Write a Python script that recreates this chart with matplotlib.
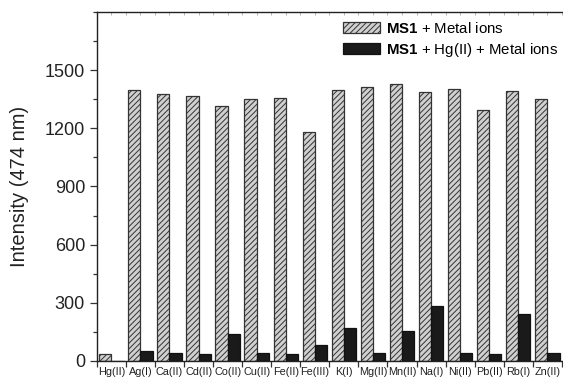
import numpy as np
import matplotlib
matplotlib.use("Agg")
import matplotlib.pyplot as plt
from matplotlib.ticker import MultipleLocator

plt.rcParams['font.family'] = ['Liberation Sans', 'DejaVu Sans']
plt.rcParams['mathtext.fontset'] = 'custom'
plt.rcParams['mathtext.bf'] = 'Liberation Sans:bold'
plt.rcParams['mathtext.rm'] = 'Liberation Sans'
plt.rcParams['hatch.linewidth'] = 0.7

ions = ['Hg(II)', 'Ag(I)', 'Ca(II)', 'Cd(II)', 'Co(II)', 'Cu(II)', 'Fe(II)', 'Fe(III)',
        'K(I)', 'Mg(II)', 'Mn(II)', 'Na(I)', 'Ni(II)', 'Pb(II)', 'Rb(I)', 'Zn(II)']
ms1_metal = [35, 1395, 1375, 1365, 1315, 1352, 1355, 1183,
             1397, 1412, 1428, 1387, 1400, 1292, 1390, 1350]
ms1_hg_metal = [0, 52, 41, 38, 138, 40, 36, 81,
                172, 40, 152, 282, 41, 36, 240, 40]

x = np.arange(len(ions))
w = 0.42

fig = plt.figure(figsize=(5.63, 3.84), dpi=100)
ax = fig.add_axes([0.172, 0.06, 0.826, 0.909])

ax.bar(x - w / 2, ms1_metal, w, facecolor='#d0d0d0', edgecolor='#333333',
       hatch='//////', linewidth=0.9, label=r'$\bf{MS1}$ + Metal ions')
ax.bar(x + w / 2, ms1_hg_metal, w, facecolor='#1a1a1a', edgecolor='#111111',
       linewidth=0.9, label=r'$\bf{MS1}$ + Hg(II) + Metal ions')

ax.set_xlim(-0.5, len(ions) - 0.5)
ax.set_ylim(0, 1800)
ax.yaxis.set_minor_locator(MultipleLocator(150))
ax.set_yticks([0, 300, 600, 900, 1200, 1500])
ax.set_xticks(x)
ax.set_xticklabels(ions, fontsize=7.8, color='#222222')
ax.set_xticks(np.arange(-0.5, len(ions), 1.0), minor=True)
ax.tick_params(axis='x', which='major', length=0, pad=4)
ax.tick_params(axis='x', which='minor', length=4, width=0.9, direction='out', color='#333333')
ax.tick_params(axis='y', which='major', length=5, width=0.9, labelsize=13,
               color='#333333', labelcolor='#222222')
ax.tick_params(axis='y', which='minor', length=3, width=0.9, color='#333333')

for s in ['left', 'bottom', 'top']:
    ax.spines[s].set_linewidth(1.0)
    ax.spines[s].set_color('#222222')
ax.spines['right'].set_visible(False)

top = ax.secondary_xaxis('top')
top.set_xticks(np.arange(-0.5, len(ions), 0.5))
top.tick_params(direction='in', length=2, width=0.6, color='#aaaaaa', labeltop=False)
top.spines['top'].set_visible(False)

ax.set_ylabel('Intensity (474 nm)', fontsize=14.5, color='#222222')
ax.yaxis.set_label_coords(-0.145, 0.5)

ax.legend(loc='upper left', bbox_to_anchor=(0.529, 0.975), frameon=False,
          fontsize=10.8, handlelength=2.5, handleheight=0.8, borderpad=0,
          labelspacing=0.35, handletextpad=0.35, borderaxespad=0)

fig.savefig('out.png', dpi=100)
